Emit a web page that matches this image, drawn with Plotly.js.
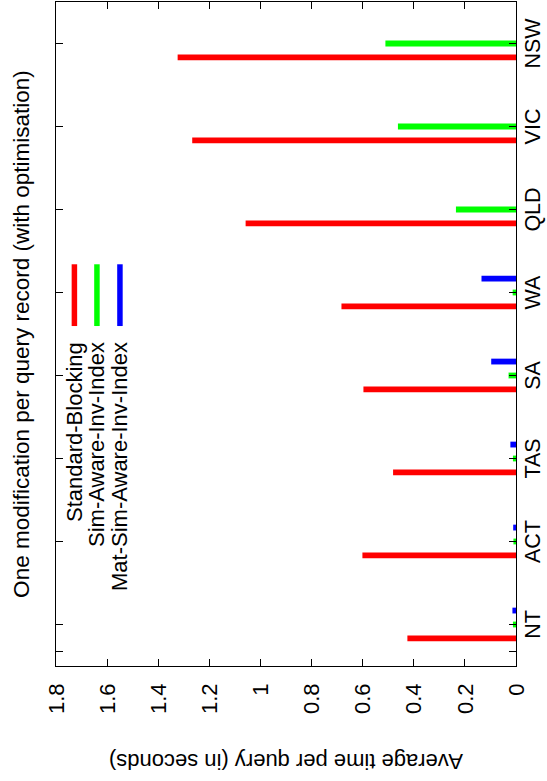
<!DOCTYPE html>
<html>
<head>
<meta charset="utf-8">
<script src="https://cdn.plot.ly/plotly-3.0.1.min.js"></script>
<style>
  html, body { margin: 0; padding: 0; overflow: hidden; width: 547px; height: 781px; background: #ffffff; }
  #chart { position: absolute; left: 0; top: 781px; width: 781px; height: 547px;
           transform-origin: 0 0; transform: rotate(-90deg); }
</style>
</head>
<body>
<div id="chart"></div>
<script>
// ---- data ----
const categories = ['NT', 'ACT', 'TAS', 'SA', 'WA', 'QLD', 'VIC', 'NSW'];
const standardBlocking    = [0.425, 0.601, 0.481, 0.597, 0.683, 1.058, 1.267, 1.324];
const simAwareInvIndex    = [0.012, 0.010, 0.012, 0.029, 0.013, 0.235, 0.462, 0.511];
const matSimAwareInvIndex = [0.014, 0.011, 0.022, 0.097, 0.135, null, null, null];
const seriesNames = ['Standard-Blocking', 'Sim-Aware-Inv-Index', 'Mat-Sim-Aware-Inv-Index'];
const yTickValues = [0, 0.2, 0.4, 0.6, 0.8, 1, 1.2, 1.4, 1.6, 1.8];
const yTickLabels = ['0', '0.2', '0.4', '0.6', '0.8', '1', '1.2', '1.4', '1.6', '1.8'];

const FONT = 'Liberation Sans, Arial, Helvetica, sans-serif';
const xIdx = categories.map((_, i) => i);
const barW = 0.07;
const shift = 0.168;

const seriesData = [standardBlocking, simAwareInvIndex, matSimAwareInvIndex];
const seriesStyle = [
  { color: '#ff0000', center: -shift },
  { color: '#00ff00', center: 0 },
  { color: '#0000ff', center: shift }
];

const traces = seriesData.map((vals, k) => ({
  type: 'bar',
  name: seriesNames[k],
  x: xIdx,
  y: vals,
  width: barW,
  offset: seriesStyle[k].center - barW / 2,
  marker: { color: seriesStyle[k].color, line: { width: 0 } },
  showlegend: false,
  hoverinfo: 'x+y'
}));

// gnuplot-style key: text right-aligned, then a line sample
const keyTextX = 0.491, keyLineX0 = 0.512, keyLineX1 = 0.605;
const keyRowsY = [0.960, 0.911, 0.861];
const annotations = seriesNames.map((n, k) => ({
  xref: 'paper', yref: 'paper', x: keyTextX, y: keyRowsY[k],
  xanchor: 'right', yanchor: 'middle', text: n, showarrow: false,
  font: { family: FONT, size: 22, color: '#000' }
}));
const shapes = seriesNames.map((n, k) => ({
  type: 'line', xref: 'paper', yref: 'paper',
  x0: keyLineX0, x1: keyLineX1, y0: keyRowsY[k], y1: keyRowsY[k],
  line: { color: seriesStyle[k].color, width: 5.5 }
}));

const layout = {
  width: 781, height: 547,
  margin: { l: 115, r: 2, t: 56, b: 31, pad: 0 },
  paper_bgcolor: '#ffffff', plot_bgcolor: '#ffffff',
  font: { family: FONT, size: 22, color: '#000' },
  barmode: 'overlay',
  title: {
    text: 'One modification per query record (with optimisation)',
    xref: 'paper', yref: 'container', x: 0.5, y: 1 - 21 / 547,
    xanchor: 'center', yanchor: 'middle',
    font: { family: FONT, size: 22.5, color: '#000' }
  },
  xaxis: {
    range: [-0.5, 7.5], autorange: false,
    tickmode: 'array', tickvals: [-0.325].concat(xIdx), ticktext: [''].concat(categories),
    ticks: 'inside', ticklen: 7, tickwidth: 1, tickcolor: '#000',
    showline: true, linecolor: '#000', linewidth: 1, mirror: 'ticks',
    showgrid: false, zeroline: false, ticklabelstandoff: -3,
    tickfont: { family: FONT, size: 21.5, color: '#000' }
  },
  yaxis: {
    range: [0, 1.8], autorange: false,
    tickmode: 'array', tickvals: yTickValues, ticktext: yTickLabels,
    ticks: 'inside', ticklen: 7, tickwidth: 1, tickcolor: '#000',
    showline: true, linecolor: '#000', linewidth: 1, mirror: 'ticks',
    showgrid: false, zeroline: false, ticklabelstandoff: 12,
    tickfont: { family: FONT, size: 22, color: '#000' },
    title: { text: 'Average time per query (in seconds)', standoff: 33,
             font: { family: FONT, size: 22, color: '#000' } }
  },
  annotations: annotations,
  shapes: shapes
};

Plotly.newPlot('chart', traces, layout, { displayModeBar: false, staticPlot: true });
</script>
</body>
</html>
